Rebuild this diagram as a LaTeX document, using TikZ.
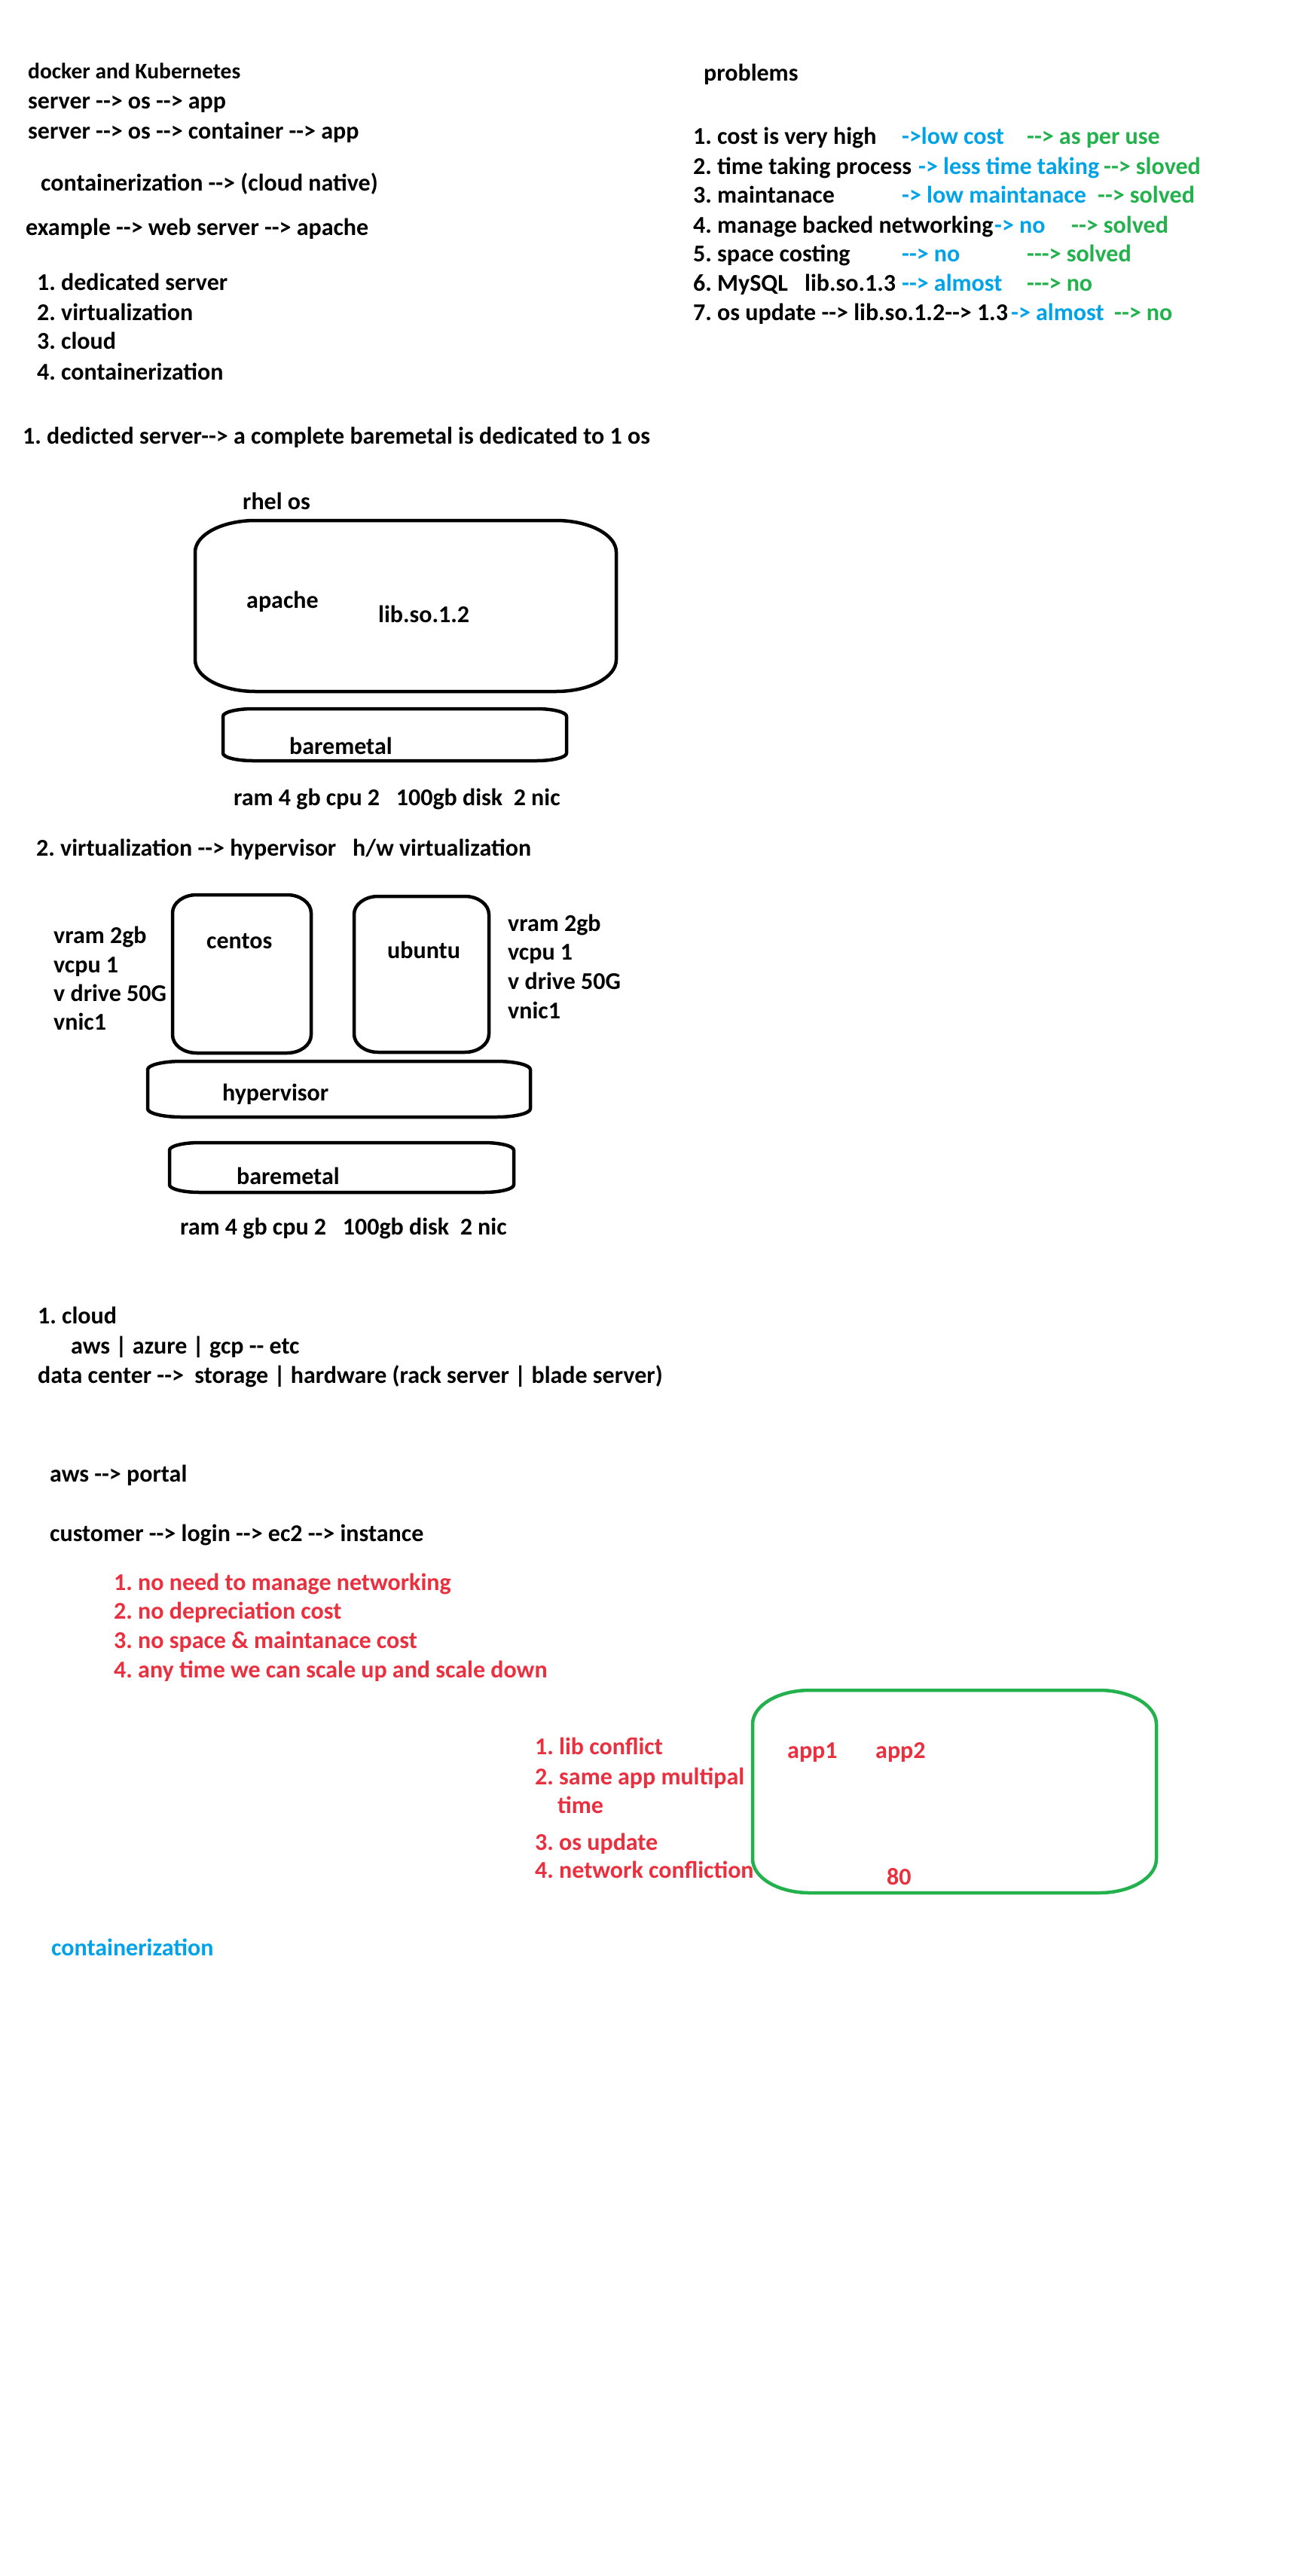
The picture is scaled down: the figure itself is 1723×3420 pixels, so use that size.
\documentclass[tikz,border=0pt]{standalone}
\usepackage{fontspec}
\newfontfamily\paint{Carlito}
\frenchspacing
\definecolor{pblue}{HTML}{00A2E8}
\definecolor{pgreen}{HTML}{22B14C}
\definecolor{pred}{HTML}{EA2F3F}
\tikzset{
	txt/.style={anchor=base west, inner sep=0pt, font=\paint\bfseries\fontsize{32}{38}\selectfont},
	small/.style={txt, font=\paint\bfseries\fontsize{29.5}{36}\selectfont},
	blue/.style={txt, text=pblue},
	green/.style={txt, text=pgreen},
	red/.style={txt, text=pred},
	pline/.style={line width=4.5pt, line join=round}
}
% box with elliptical corners: x1 y1 x2 y2 rx ry
\newcommand{\pbox}[7][]{%
	\draw[pline,#1] (#2+#6,#3) -- (#4-#6,#3) arc(-90:0:#6 and #7) -- (#4,#5-#7) arc(0:90:#6 and #7)
		-- (#2+#6,#5) arc(90:180:#6 and #7) -- (#2,#3+#7) arc(180:270:#6 and #7) -- cycle;}

\begin{document}
\begin{tikzpicture}[x=1pt,y=-1pt]
		\fill[white] (0,0) rectangle (1723,3420);
		% intro
		\node[small] (title) at (37,105) {docker and Kubernetes};
		\node[txt] (flowA) at (37,145) {server --> os --> app};
		\node[txt] (flowB) at (37,185) {server --> os --> container --> app};
		\node[txt] (native) at (54,253) {containerization --> (cloud native)};
		\node[txt] (webex) at (34,312) {example --> web server --> apache};
		\node[txt] (way1) at (49,385) {1. dedicated server};
		\node[txt] (way2) at (49,425) {2. virtualization};
		\node[txt] (way3) at (49,463) {3. cloud};
		\node[txt] (way4) at (49,504) {4. containerization};
		% problems
		\node[txt] (problems) at (934,108) {problems};
		\node[txt] (prob1) at (920,192) {1. cost is very high};
		\node[blue] (fixA1) at (1197,192) {->low cost};
		\node[green] (fixB1) at (1363,192) {--> as per use};
		\node[txt] (prob2) at (920,231) {2. time taking process};
		\node[blue] (fixA2) at (1219,231) {-> less time taking};
		\node[green] (fixB2) at (1465,231) {--> sloved};
		\node[txt] (prob3) at (920,269) {3. maintanace};
		\node[blue] (fixA3) at (1197,269) {-> low maintanace};
		\node[green] (fixB3) at (1457,269) {--> solved};
		\node[txt] (prob4) at (920,309) {4. manage backed networking};
		\node[blue] (fixA4) at (1320,309) {-> no};
		\node[green] (fixB4) at (1422,309) {--> solved};
		\node[txt] (prob5) at (920,347) {5. space costing};
		\node[blue] (fixA5) at (1197,347) {--> no};
		\node[green] (fixB5) at (1363,347) {---> solved};
		\node[txt] (prob6) at (920,386) {6. MySQL};
		\node[txt] (lib6) at (1068,386) {lib.so.1.3};
		\node[blue] (fixA6) at (1197,386) {--> almost};
		\node[green] (fixB6) at (1363,386) {---> no};
		\node[txt] (prob7) at (920,425) {7. os update --> lib.so.1.2--> 1.3};
		\node[blue] (fixA7) at (1342,425) {-> almost};
		\node[green] (fixB7) at (1479,425) {--> no};
		% dedicated server
		\node[txt] (dedi) at (30,589) {1. dedicted server--> a complete baremetal is dedicated to 1 os};
		\node[txt] (rhel) at (322,676) {rhel os};
		\pbox{259}{691}{818}{918}{80}{42}
		\node[txt] (apache) at (327,807) {apache};
		\node[txt] (libA) at (502,826) {lib.so.1.2};
		\pbox{296}{941}{752}{1010}{40}{10}
		\node[txt] (bmA) at (384,1001) {baremetal};
		\node[txt] (hwA) at (310,1069) {ram 4 gb cpu 2\ \ \ 100gb disk\ \ 2 nic};
		% virtualization
		\node[txt] (virt) at (48,1136) {2. virtualization --> hypervisor\ \ \ h/w virtualization};
		\pbox{229}{1188}{413}{1398}{32}{24}
		\pbox{470}{1190}{649}{1397}{32}{24}
		\node[txt] (centos) at (274,1259) {centos};
		\node[txt] (ubuntu) at (514,1272) {ubuntu};
		\node[txt] (vramL) at (71,1252) {vram 2gb};
		\node[txt] (vcpuL) at (71,1291) {vcpu 1};
		\node[txt] (vdriveL) at (71,1329) {v drive 50G};
		\node[txt] (vnicL) at (71,1367) {vnic1};
		\node[txt] (vramR) at (674,1236) {vram 2gb};
		\node[txt] (vcpuR) at (674,1274) {vcpu 1};
		\node[txt] (vdriveR) at (674,1313) {v drive 50G};
		\node[txt] (vnicR) at (674,1352) {vnic1};
		\pbox{196}{1409}{704}{1483}{45}{11}
		\node[txt] (hyper) at (295,1461) {hypervisor};
		\pbox{225}{1517}{682}{1583}{40}{10}
		\node[txt] (bmB) at (314,1572) {baremetal};
		\node[txt] (hwB) at (239,1639) {ram 4 gb cpu 2\ \ \ 100gb disk\ \ 2 nic};
		% cloud
		\node[txt] (cloud) at (50,1757) {1. cloud};
		\node[txt] (vendors) at (94,1797) {aws | azure | gcp -- etc};
		\node[txt] (dc) at (50,1836) {data center -->\ \ storage | hardware (rack server | blade server)};
		\node[txt] (portal) at (66,1967) {aws --> portal};
		\node[txt] (login) at (66,2046) {customer --> login --> ec2 --> instance};
		\node[red] (gain1) at (151,2111) {1. no need to manage networking};
		\node[red] (gain2) at (151,2149) {2. no depreciation cost};
		\node[red] (gain3) at (151,2188) {3. no space \& maintanace cost};
		\node[red] (gain4) at (151,2227) {4. any time we can scale up and scale down};
		% single os issues
		\pbox[pgreen]{999}{2244}{1535}{2513}{76}{45}
		\node[red] (app1) at (1045,2334) {app1};
		\node[red] (app2) at (1162,2334) {app2};
		\node[red] (port) at (1177,2502) {80};
		\node[red] (issue1) at (710,2329) {1. lib conflict};
		\node[red] (issue2) at (710,2369) {2. same app multipal};
		\node[red] (issue2b) at (740,2407) {time};
		\node[red] (issue3) at (710,2456) {3. os update};
		\node[red] (issue4) at (710,2493) {4. network confliction};
		\node[blue] (contz) at (68,2596) {containerization};
	\end{tikzpicture}
\end{document}
